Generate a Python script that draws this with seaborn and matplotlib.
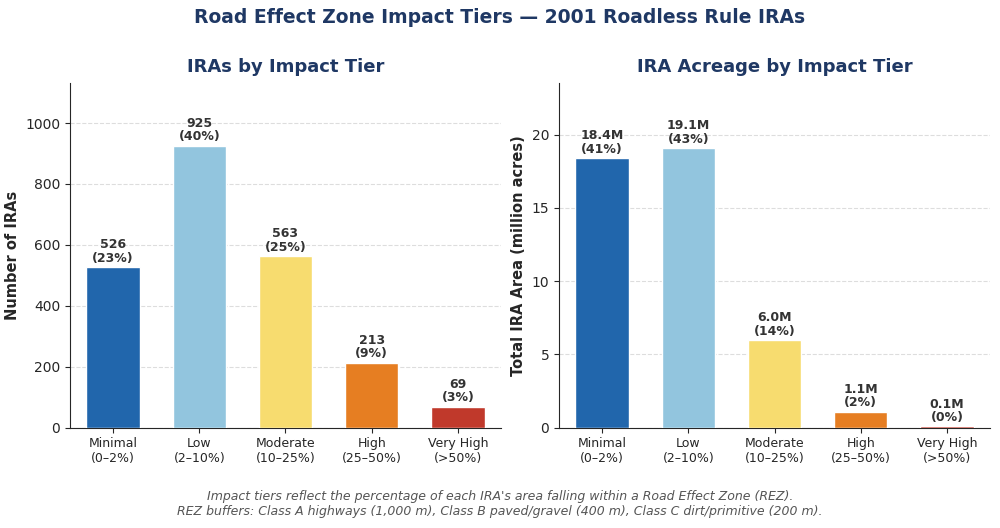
import matplotlib
matplotlib.use("Agg")
import matplotlib.pyplot as plt
import seaborn as sns
import pandas as pd

tiers = ["Minimal\n(0–2%)", "Low\n(2–10%)", "Moderate\n(10–25%)", "High\n(25–50%)", "Very High\n(>50%)"]
counts = [526, 925, 563, 213, 69]
count_pct = [23, 40, 25, 9, 3]
acres = [18.4, 19.1, 6.0, 1.1, 0.1]
acre_pct = [41, 43, 14, 2, 0]
colors = ["#2166ac", "#92c5de", "#f7dc6f", "#e67e22", "#c0392b"]

sns.set_style("ticks")
plt.rcParams['font.family'] = ['DejaVu Sans']
navy = "#1f3864"

fig, axes = plt.subplots(1, 2, figsize=(10, 5.28), dpi=100)
df = pd.DataFrame({"tier": tiers, "count": counts, "acres": acres})

ax = axes[0]
sns.barplot(data=df, x="tier", y="count", hue="tier", palette=colors, saturation=1,
            legend=False, width=0.62, ax=ax, zorder=3)
for i, (v, p) in enumerate(zip(counts, count_pct)):
    ax.text(i, v + 8, f"{v}\n({p}%)", ha="center", va="bottom", fontsize=9, fontweight="bold",
            color="#333333", linespacing=1.05)
ax.set_ylim(0, 1130)
ax.set_ylabel("Number of IRAs", fontsize=10.5, fontweight="bold")
ax.set_title("IRAs by Impact Tier", fontsize=13, fontweight="bold", color=navy, pad=8)

ax = axes[1]
sns.barplot(data=df, x="tier", y="acres", hue="tier", palette=colors, saturation=1,
            legend=False, width=0.62, ax=ax, zorder=3)
for i, (v, p) in enumerate(zip(acres, acre_pct)):
    ax.text(i, v + 0.15, f"{v:.1f}M\n({p}%)", ha="center", va="bottom", fontsize=9, fontweight="bold",
            color="#333333", linespacing=1.05)
ax.set_ylim(0, 23.5)
ax.set_ylabel("Total IRA Area (million acres)", fontsize=10.5, fontweight="bold")
ax.set_title("IRA Acreage by Impact Tier", fontsize=13, fontweight="bold", color=navy, pad=8)

for ax in axes:
    ax.set_xlabel("")
    ax.tick_params(axis="x", labelsize=9)
    ax.tick_params(axis="y", labelsize=10)
    ax.yaxis.grid(True, linestyle="--", color="#dddddd", zorder=0)
    sns.despine(ax=ax)

fig.suptitle("Road Effect Zone Impact Tiers — 2001 Roadless Rule IRAs", fontsize=13.5, fontweight="bold",
             color=navy, y=0.985)
fig.text(0.5, 0.018, "Impact tiers reflect the percentage of each IRA's area falling within a Road Effect Zone (REZ).\n"
         "REZ buffers: Class A highways (1,000 m), Class B paved/gravel (400 m), Class C dirt/primitive (200 m).",
         ha="center", va="bottom", fontsize=9, style="italic", color="#555555")
fig.subplots_adjust(left=0.07, right=0.99, top=0.842, bottom=0.19, wspace=0.135)
fig.savefig("out.png")
